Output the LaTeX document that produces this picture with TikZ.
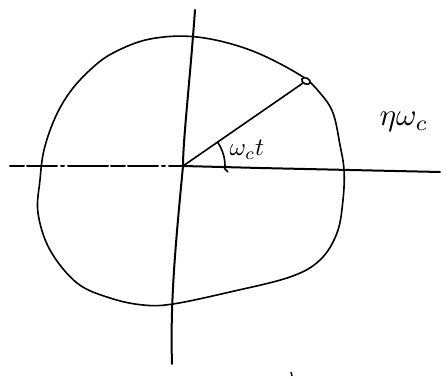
\documentclass[tikz,border=0pt]{standalone}
\usetikzlibrary{shapes.geometric,calc}
\begin{document}
\begin{tikzpicture}[x=1pt,y=-1pt,
  pen/.style={line width=1.6pt,line cap=round,line join=round},
  axis/.style={line width=2pt,line cap=round},
  lbl/.style={scale=2.5,inner sep=0pt}]
\useasboundingbox (0,0) rectangle (448,379);
% axes
\coordinate (O) at (183,166);
\coordinate (vt) at (195,10);
\coordinate (vb) at (172,364);
\coordinate (hl) at (10,166);
\coordinate (hr) at (440,172);
\draw[axis] (vt) .. controls (190,80) and (183,140) .. (O) .. controls (176,240) and (170,300) .. (vb);
\draw[axis,dash pattern=on 14pt off 3pt on 30pt off 4pt on 3pt off 4pt on 40pt off 3pt] (hl) -- (O);
\draw[axis] (O) -- (260,168) -- (hr);
% closed curve
\draw[pen] plot[smooth cycle,tension=0.6] coordinates {
 (197,37) (250,50) (300,75) (320,93) (333,113) (340,145) (344,170)
 (343,200) (337,233) (320,260) (290,277) (230,292) (173,304) (143,305)
 (110,298) (77,283) (50,250) (38,213) (40,180) (44,150) (55,118)
 (70,92) (90,70) (113,53) (150,39)};
% point on curve
\node[draw,ellipse,line width=1.6pt,minimum width=9pt,minimum height=6pt,inner sep=0pt,rotate=-25,fill=white] (P) at (306,81) {};
\draw[pen] (O) -- (P);
% angle arc
\draw[pen] ($(O)+(-34.7:42)$) arc[start angle=-34.7,end angle=4,radius=42] -- ++(3,3);
\node[lbl,anchor=west] (wt) at (229,150) {$\omega_c t$};
\node[lbl,scale=1.25] (wc) at (404,122) {$\eta\omega_c$};
% stray mark
\draw[line width=1.4pt] (291,372) -- (292,376);
\end{tikzpicture}
\end{document}
